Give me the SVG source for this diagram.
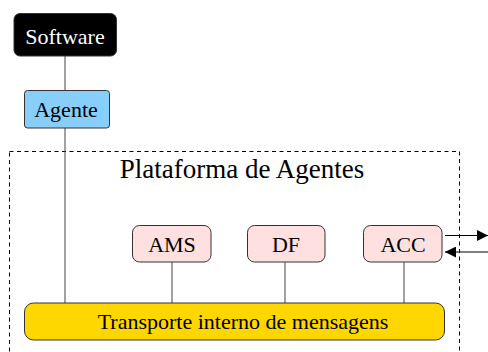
<svg xmlns="http://www.w3.org/2000/svg" width="488" height="352" viewBox="0 0 488 352" font-family="'Liberation Serif', 'Times New Roman', 'DejaVu Serif', serif">
<defs>
<style>
text{font-family:'Liberation Serif','Times New Roman','DejaVu Serif',serif;text-anchor:middle;fill:#000}
.lbl{font-size:22px}
.node{stroke:#333;stroke-width:1}
.conn{stroke:#444;stroke-width:1;fill:none}
</style>
<marker id="ah" viewBox="0 0 10 10" refX="10" refY="5" markerWidth="12" markerHeight="11" markerUnits="userSpaceOnUse" orient="auto">
<path d="M0,0 L10,5 L0,10 Z" fill="#000"/>
</marker>
</defs>
<rect x="9.5" y="151.5" width="450" height="220" fill="none" stroke="#000" stroke-width="1" stroke-dasharray="4,3.5"/>
<text x="242" y="178" font-family="Liberation Serif, serif" font-size="27">Plataforma de Agentes</text>
<g id="connectors">
<line class="conn" x1="65" y1="56" x2="65" y2="90"/>
<line class="conn" x1="65" y1="128" x2="65" y2="303"/>
<line class="conn" x1="172" y1="262" x2="172" y2="303"/>
<line class="conn" x1="285" y1="262" x2="285" y2="303"/>
<line class="conn" x1="404" y1="262" x2="404" y2="303"/>
<line x1="445" y1="235.5" x2="488" y2="235.5" stroke="#000" stroke-width="1.2" marker-end="url(#ah)"/>
<line x1="488" y1="252" x2="445" y2="252" stroke="#000" stroke-width="1.2" marker-end="url(#ah)"/>
</g>
<g id="software">
<rect class="node" x="14" y="13.5" width="102.5" height="42.5" rx="6" fill="#000"/>
<text class="lbl" x="65" y="43.5" font-family="Liberation Serif, serif" style="fill:#fff">Software</text>
</g>
<g id="agente">
<rect class="node" x="24.5" y="90.5" width="85" height="37.5" rx="3" fill="#87CEFA"/>
<text class="lbl" x="66" y="116.5" font-family="Liberation Serif, serif">Agente</text>
</g>
<g id="ams">
<rect class="node" x="132.5" y="225.5" width="78.5" height="36.5" rx="7" fill="#FFE0E0"/>
<text class="lbl" x="172" y="251.5" font-family="Liberation Serif, serif">AMS</text>
</g>
<g id="df">
<rect class="node" x="247.5" y="225.5" width="77.5" height="36.5" rx="7" fill="#FFE0E0"/>
<text class="lbl" x="286" y="251.5" font-family="Liberation Serif, serif">DF</text>
</g>
<g id="acc">
<rect class="node" x="363.5" y="225.5" width="78.5" height="36.5" rx="7" fill="#FFE0E0"/>
<text class="lbl" x="403" y="251.5" font-family="Liberation Serif, serif">ACC</text>
</g>
<g id="transporte">
<rect class="node" x="24.5" y="303" width="420" height="37" rx="9" fill="#FFD700"/>
<text class="lbl" x="243" y="329" font-family="Liberation Serif, serif">Transporte interno de mensagens</text>
</g>
</svg>
